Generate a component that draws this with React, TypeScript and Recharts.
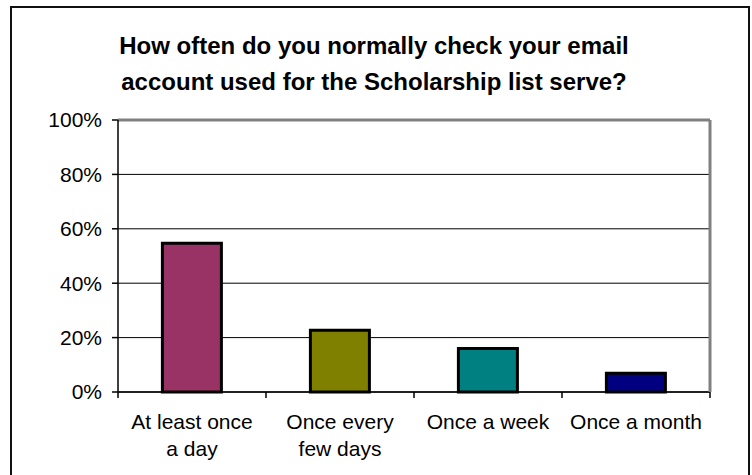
import { Bar, CartesianGrid, Cell, ComposedChart, Line, XAxis, YAxis } from 'recharts'

const categories = ['At least once\na day', 'Once every\nfew days', 'Once a week', 'Once a month']
const shares = [54.7, 22.7, 16.0, 6.9]
const barColors = ['#993366', '#808000', '#008080', '#000080']
const yTicks = [0, 20, 40, 60, 80, 100]
const titleLines = ['How often do you normally check your email', 'account used for the Scholarship list serve?']

const W = 752
const H = 475
const margin = { top: 119, right: 41, bottom: 23, left: 58 }
const plotW = W - margin.left - margin.right - 61
const font = '"Liberation Sans", Arial, sans-serif'

const data = categories.map((name, i) => ({ name, value: shares[i] }))

function CategoryTick(props: any) {
  const { x, y, payload, index } = props
  const band = plotW / categories.length
  const lines = String(payload.value).split('\n')
  return (
    <g>
      <line x1={x - band / 2} x2={x - band / 2} y1={y} y2={y + 6} stroke="#000" strokeWidth={1.5} />
      {index === categories.length - 1 && (
        <line x1={x + band / 2} x2={x + band / 2} y1={y} y2={y + 6} stroke="#000" strokeWidth={1.5} />
      )}
      <text textAnchor="middle" fontFamily={font} fontSize={21} fill="#000">
        {lines.map((l, i) => (
          <tspan key={i} x={x} y={y + 37 + i * 27}>
            {l}
          </tspan>
        ))}
      </text>
    </g>
  )
}

export default function App() {
  return (
    <div style={{ position: 'absolute', left: 0, top: 0, width: W, height: H, overflow: 'hidden', background: '#fff' }}>
      <div
        style={{
          position: 'absolute',
          left: 10,
          top: 6,
          width: 736,
          height: 490,
          border: '2px solid #111',
        }}
      />
      <div
        style={{
          position: 'absolute',
          left: 0,
          top: 28,
          width: 748,
          textAlign: 'center',
          fontFamily: font,
          fontWeight: 'bold',
          fontSize: 24,
          lineHeight: '36px',
          color: '#000',
        }}
      >
        {titleLines.map((t) => (
          <div key={t}>{t}</div>
        ))}
      </div>
      <div style={{ position: 'absolute', left: 0, top: 0 }}>
        <ComposedChart width={W} height={H} data={data} margin={margin} barCategoryGap="30%">
          <CartesianGrid horizontal vertical={false} stroke="#000" strokeWidth={1} />
          <XAxis
            dataKey="name"
            tick={<CategoryTick />}
            tickLine={false}
            tickSize={0}
            tickMargin={0}
            height={60}
            interval={0}
            axisLine={{ stroke: '#000', strokeWidth: 1.5 }}
          />
          <XAxis
            xAxisId="top"
            dataKey="name"
            orientation="top"
            height={1}
            tick={false}
            tickLine={false}
            axisLine={{ stroke: '#808080', strokeWidth: 3 }}
          />
          <YAxis
            domain={[0, 100]}
            ticks={yTicks}
            tickFormatter={(v) => `${v}%`}
            width={60}
            tickSize={6}
            tickMargin={10}
            tick={{ fontSize: 21, fill: '#000', fontFamily: font }}
            tickLine={{ stroke: '#000', strokeWidth: 1.5 }}
            axisLine={{ stroke: '#000', strokeWidth: 1.5 }}
          />
          <YAxis
            yAxisId="right"
            orientation="right"
            domain={[0, 100]}
            width={1}
            tick={false}
            tickLine={false}
            axisLine={{ stroke: '#808080', strokeWidth: 3 }}
          />
          <Bar dataKey="value" stroke="#000" strokeWidth={3} isAnimationActive={false}>
            {data.map((d, i) => (
              <Cell key={d.name} fill={barColors[i]} />
            ))}
          </Bar>
          <Line
            xAxisId="top"
            yAxisId="right"
            dataKey="value"
            stroke="none"
            dot={false}
            activeDot={false}
            legendType="none"
            isAnimationActive={false}
          />
        </ComposedChart>
      </div>
    </div>
  )
}
